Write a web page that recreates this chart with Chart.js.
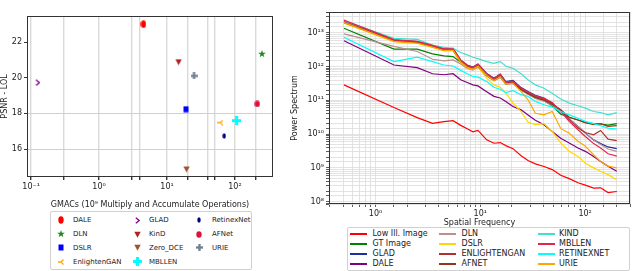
<!DOCTYPE html>
<html>
<head>
<meta charset="utf-8">
<script src="https://cdn.jsdelivr.net/npm/chart.js@4"></script>
<style>
body { margin: 0; width: 640px; height: 271px; background: #fff; position: relative; overflow: hidden; font-family: 'DejaVu Sans', sans-serif; }
canvas { position: absolute; }
.legend { position: absolute; border: 1px solid #d0d0d0; border-radius: 2px; background: #fff; font-size: 8px; color: #222; }
#leftLegend { font-size: 7px; }
.item { position: absolute; white-space: nowrap; line-height: 10px; height: 10px; }
.item img { position: absolute; }
.swatch { position: absolute; height: 2px; }
</style>
</head>
<body>
<canvas id="left" width="290" height="210" style="left:0;top:0"></canvas>
<canvas id="right" width="350" height="228" style="left:290px;top:0"></canvas>
<div class="legend" id="leftLegend" style="left:50px;top:211px;width:200px;height:57px"></div>
<div class="legend" id="rightLegend" style="left:347px;top:227px;width:281px;height:42px"></div>
<script>
// ---- left: PSNR vs GMACs ----
const methods = ['DALE', 'DLN', 'DSLR', 'EnlightenGAN', 'GLAD', 'KinD', 'Zero_DCE', 'MBLLEN', 'RetinexNet', 'AFNet', 'URIE'];
const gmacs = [4.5, 250, 19, 61, 0.125, 14.8, 19.4, 106, 69.5, 213, 25];
const psnr = [23.0, 21.33, 18.23, 17.48, 19.72, 20.88, 14.87, 17.59, 16.73, 18.53, 20.1];
const psnrTicks = [16, 18, 20, 22];
const gmacGrid = [0.1, 0.3, 1, 3, 4, 10, 20, 40, 50, 100, 200];

// ---- right: power spectrum (log10 of power) ----
const freq = [0.5, 1.5, 2.5, 3.5, 4.5, 5.5, 6.5, 7.5, 8.5, 9.5, 11.5, 13.5, 15.5, 17.5, 20.5, 24.5, 28.5, 33.5, 40.5, 48.5, 58.5, 70.5, 85.5, 100.5, 120.5, 140.5, 165.5, 200.5];
const lowIll = [11.46, 10.79, 10.49, 10.32, 10.37, 10.40, 10.26, 10.16, 10.07, 10.11, 9.83, 9.73, 9.75, 9.66, 9.57, 9.36, 9.22, 9.12, 9.04, 8.95, 8.78, 8.68, 8.56, 8.49, 8.40, 8.41, 8.27, 8.30];
const gt = [13.14, 12.52, 12.52, 12.38, 12.32, 12.30, 12.13, 11.98, 11.93, 12.00, 11.73, 11.59, 11.69, 11.49, 11.51, 11.31, 11.20, 11.07, 10.99, 10.84, 10.59, 10.50, 10.42, 10.34, 10.31, 10.30, 10.27, 10.31];
const glad = [13.35, 12.79, 12.74, 12.62, 12.52, 12.54, 12.19, 12.05, 11.99, 12.08, 11.80, 11.66, 11.78, 11.56, 11.59, 11.38, 11.26, 11.15, 11.07, 10.92, 10.67, 10.45, 10.23, 10.03, 9.83, 9.72, 9.62, 9.57];
const dale = [12.77, 12.05, 11.97, 11.79, 11.76, 11.79, 11.61, 11.53, 11.46, 11.43, 11.26, 11.12, 11.07, 10.97, 10.82, 10.72, 10.57, 10.41, 10.28, 10.08, 9.88, 9.74, 9.59, 9.49, 9.34, 9.19, 9.05, 8.90];
const dln = [12.97, 12.60, 12.45, 12.22, 12.17, 12.20, 12.08, 11.95, 11.90, 11.98, 11.72, 11.58, 11.69, 11.48, 11.50, 11.30, 11.18, 11.06, 10.98, 10.86, 10.68, 10.45, 10.23, 10.03, 9.83, 9.69, 9.56, 9.49];
const dslr = [13.29, 12.74, 12.69, 12.57, 12.47, 12.47, 12.13, 11.97, 11.92, 12.00, 11.66, 11.46, 11.39, 11.23, 10.92, 10.67, 10.35, 10.28, 10.31, 10.08, 9.74, 9.49, 9.34, 9.14, 9.00, 8.90, 8.80, 8.65];
const enlighten = [13.36, 12.78, 12.73, 12.61, 12.51, 12.51, 12.17, 12.02, 11.96, 12.04, 11.77, 11.62, 11.74, 11.52, 11.54, 11.34, 11.22, 11.11, 11.03, 10.91, 10.72, 10.43, 10.18, 10.05, 9.98, 10.11, 9.85, 9.81];
const afnet = [13.31, 12.76, 12.71, 12.59, 12.49, 12.49, 12.15, 11.99, 11.94, 12.01, 11.74, 11.60, 11.71, 11.50, 11.52, 11.32, 11.20, 11.09, 11.01, 10.88, 10.72, 10.50, 10.42, 10.34, 10.28, 10.31, 10.23, 10.25];
const kind = [13.36, 12.84, 12.81, 12.64, 12.57, 12.54, 12.42, 12.35, 12.28, 12.24, 12.15, 12.10, 12.15, 12.02, 11.95, 11.79, 11.61, 11.46, 11.36, 11.21, 11.04, 10.92, 10.84, 10.77, 10.67, 10.64, 10.57, 10.64];
const mbllen = [13.38, 12.80, 12.75, 12.63, 12.53, 12.53, 12.20, 12.04, 11.98, 12.07, 11.79, 11.65, 11.77, 11.55, 11.57, 11.37, 11.25, 11.14, 11.06, 10.94, 10.67, 10.38, 10.13, 9.93, 9.72, 9.59, 9.42, 9.35];
const retinex = [12.87, 12.15, 12.28, 12.15, 12.05, 12.02, 11.89, 11.79, 11.71, 11.69, 11.56, 11.39, 11.33, 11.23, 11.29, 11.17, 11.12, 10.97, 10.87, 10.80, 10.67, 10.57, 10.47, 10.38, 10.31, 10.25, 10.18, 10.15];
const urie = [13.31, 12.75, 12.70, 12.58, 12.48, 12.48, 12.14, 11.98, 11.93, 12.01, 11.74, 11.59, 11.70, 11.49, 11.51, 11.26, 11.02, 10.62, 10.57, 10.67, 10.17, 10.03, 9.79, 9.64, 9.39, 9.19, 9.05, 9.00];

const seriesNames = ['Low Ill. Image', 'GT Image', 'GLAD', 'DALE', 'DLN', 'DSLR', 'ENLIGHTENGAN', 'AFNET', 'KIND', 'MBLLEN', 'RETINEXNET', 'URIE'];
const seriesLogPower = [lowIll, gt, glad, dale, dln, dslr, enlighten, afnet, kind, mbllen, retinex, urie];

// styles
const markerColors = ['#ff0000', '#1e8a1e', '#0000ff', '#ffa500', '#8b008b', '#b22222', '#a0522d', '#00ffff', '#000080', '#dc143c', '#708090'];
const markerShapes = ['ellipse', 'star', 'square', 'tri', 'chevron', 'tridown', 'tridown', 'plus', 'ellipse', 'ellipse', 'plus'];
const markerSizes = [[6, 8], [8, 8], [6, 7], [6, 6], [5, 7], [7, 7], [7, 7], [9, 9], [4, 6], [6, 7], [7, 7]];
const lineColors = ['#ff0000', '#008000', '#1f2f9f', '#800080', '#bc8f8f', '#ffd700', '#b03030', '#8b3a1a', '#40e0d0', '#e0284f', '#00ffff', '#ffa500'];

const FONT = 'DejaVu Sans';
const sup = n => String(n).split('').map(ch => ({'-': '⁻', '0': '⁰', '1': '¹', '2': '²', '3': '³', '4': '⁴', '5': '⁵', '6': '⁶', '7': '⁷', '8': '⁸', '9': '⁹'})[ch]).join('');
const powLabel = v => {
    const e = Math.log10(v), r = Math.round(e);
    return Math.abs(e - r) < 1e-6 ? '10' + sup(r) : '';
};

function marker(shape, color, w, h) {
    const c = document.createElement('canvas');
    c.width = w; c.height = h;
    const g = c.getContext('2d');
    g.fillStyle = color; g.strokeStyle = color;
    const cx = w / 2, cy = h / 2;
    g.beginPath();
    if (shape === 'ellipse') {
        g.ellipse(cx, cy, w / 2 - 0.3, h / 2 - 0.3, 0, 0, 2 * Math.PI); g.fill();
    } else if (shape === 'star') {
        for (let i = 0; i < 10; i++) {
            const r = i % 2 ? w * 0.2 : w / 2;
            const a = -Math.PI / 2 + i * Math.PI / 5;
            g.lineTo(cx + r * Math.cos(a), cy + r * Math.sin(a));
        }
        g.closePath(); g.fill();
    } else if (shape === 'square') {
        g.fillRect(0.5, 0.5, w - 1, h - 1);
    } else if (shape === 'tridown') {
        g.moveTo(0.3, 0.8); g.lineTo(w - 0.3, 0.8); g.lineTo(cx, h - 0.3); g.closePath(); g.fill();
    } else if (shape === 'plus') {
        g.fillRect(cx - w / 6, 0, w / 3, h); g.fillRect(0, cy - h / 6, w, h / 3);
    } else if (shape === 'chevron') {
        g.lineWidth = 1.4; g.moveTo(0.8, 0.8); g.lineTo(w - 0.8, cy); g.lineTo(0.8, h - 0.8); g.stroke();
    } else if (shape === 'tri') {
        g.lineWidth = 1.3; g.moveTo(0, cy); g.lineTo(cx, cy); g.lineTo(w - 0.5, 0.5);
        g.moveTo(cx, cy); g.lineTo(w - 0.5, h - 0.5); g.stroke();
    }
    return c;
}

const frame = {
    id: 'frame',
    afterDraw(chart) {
        const {ctx, chartArea: a} = chart;
        ctx.save();
        ctx.strokeStyle = '#333';
        ctx.lineWidth = 1;
        ctx.strokeRect(Math.round(a.left) + 0.5, Math.round(a.top) + 0.5, Math.round(a.right - a.left) - 1, Math.round(a.bottom - a.top) - 1);
        ctx.restore();
    }
};

Chart.defaults.font.family = FONT;
Chart.defaults.color = '#222';

const markers = methods.map((m, i) => marker(markerShapes[i], markerColors[i], markerSizes[i][0], markerSizes[i][1]));

new Chart(document.getElementById('left'), {
    type: 'scatter',
    data: {
        datasets: methods.map((m, i) => ({
            label: m,
            data: [{x: gmacs[i], y: psnr[i]}],
            pointStyle: markers[i],
            backgroundColor: markerColors[i],
            borderColor: markerColors[i]
        }))
    },
    options: {
        responsive: false,
        animation: false,
        events: [],
        layout: {padding: {top: 16, right: 17, left: 0, bottom: 0}},
        plugins: {legend: {display: false}, tooltip: {enabled: false}},
        scales: {
            x: {
                type: 'logarithmic',
                min: 0.087, max: 363,
                afterBuildTicks: s => { s.ticks = gmacGrid.map(v => ({value: v})); },
                afterFit: s => { s.height = 33; },
                border: {display: false},
                grid: {color: '#dadada', lineWidth: 1.4, tickColor: '#333', tickLength: 3},
                ticks: {autoSkip: false, maxRotation: 0, padding: 2, font: {size: 8}, callback: v => powLabel(v)},
                title: {display: true, text: 'GMACs (10⁹ Multiply and Accumulate Operations)', font: {size: 8}, padding: {top: 3, bottom: 0}}
            },
            y: {
                min: 14.43, max: 23.46,
                afterBuildTicks: s => { s.ticks = psnrTicks.map(v => ({value: v})); },
                afterFit: s => { s.width = 27; },
                border: {display: false},
                grid: {
                    color: c => (c.tick && (c.tick.value === 16 || c.tick.value === 18)) ? '#d0d0d0' : 'rgba(0,0,0,0)',
                    tickColor: '#333', tickLength: 3
                },
                ticks: {padding: 2, font: {size: 8}},
                title: {display: true, text: 'PSNR - LOL', font: {size: 8}, padding: {top: 0, bottom: 2}}
            }
        }
    },
    plugins: [frame]
});

new Chart(document.getElementById('right'), {
    type: 'line',
    data: {
        datasets: seriesNames.map((n, i) => ({
            label: n,
            data: freq.map((f, j) => ({x: f, y: Math.pow(10, seriesLogPower[i][j])})),
            borderColor: lineColors[i],
            borderWidth: 1.2,
            pointRadius: 0,
            tension: 0,
            order: seriesNames.length - i
        }))
    },
    options: {
        responsive: false,
        animation: false,
        events: [],
        layout: {padding: {top: 12, right: 10, left: 0, bottom: 0}},
        plugins: {legend: {display: false}, tooltip: {enabled: false}},
        scales: {
            x: {
                type: 'logarithmic',
                min: 0.36, max: 268,
                afterFit: s => { s.height = 24; },
                border: {display: false},
                grid: {color: '#dcdcdc', lineWidth: 0.8, tickColor: '#333', tickLength: 3},
                ticks: {autoSkip: false, maxRotation: 0, padding: 2, font: {size: 8}, callback: v => powLabel(v)},
                title: {display: true, text: 'Spatial Frequency', font: {size: 8}, padding: {top: 0, bottom: 0}}
            },
            y: {
                type: 'logarithmic',
                min: 8.5e7, max: 4.17e13,
                afterFit: s => { s.width = 39; },
                border: {display: false},
                grid: {color: '#dcdcdc', lineWidth: 0.8, tickColor: '#333', tickLength: 3},
                ticks: {autoSkip: false, padding: 2, font: {size: 8}, callback: v => powLabel(v)},
                title: {display: true, text: 'Power Spectrum', font: {size: 8}, padding: {top: 0, bottom: 2}}
            }
        }
    },
    plugins: [frame]
});

// legends (column-major, like the original)
const leftLeg = document.getElementById('leftLegend');
const lCols = [[10, 22], [86, 98], [148, 161]];
const lRows = [8, 22, 35.5, 49.5];
methods.forEach((m, i) => {
    const col = Math.floor(i / 4), row = i % 4;
    const d = document.createElement('div');
    d.className = 'item';
    d.style.left = lCols[col][1] + 'px';
    d.style.top = (lRows[row] - 5) + 'px';
    d.textContent = m;
    leftLeg.appendChild(d);
    const img = document.createElement('img');
    img.src = markers[i].toDataURL();
    img.style.position = 'absolute';
    img.style.left = (lCols[col][0] - markerSizes[i][0] / 2) + 'px';
    img.style.top = (lRows[row] - markerSizes[i][1] / 2) + 'px';
    leftLeg.appendChild(img);
});

const rightLeg = document.getElementById('rightLegend');
const rCols = [[2, 24.5], [91, 113.5], [189.5, 211]];
const rRows = [5.7, 15.7, 25.7, 35.7];
seriesNames.forEach((n, i) => {
    const col = Math.floor(i / 4), row = i % 4;
    const sw = document.createElement('div');
    sw.className = 'swatch';
    sw.style.left = rCols[col][0] + 'px';
    sw.style.top = (rRows[row] - 1) + 'px';
    sw.style.width = '17px';
    sw.style.background = lineColors[i];
    rightLeg.appendChild(sw);
    const d = document.createElement('div');
    d.className = 'item';
    d.style.left = rCols[col][1] + 'px';
    d.style.top = (rRows[row] - 5) + 'px';
    d.textContent = n;
    rightLeg.appendChild(d);
});
</script>
</body>
</html>
